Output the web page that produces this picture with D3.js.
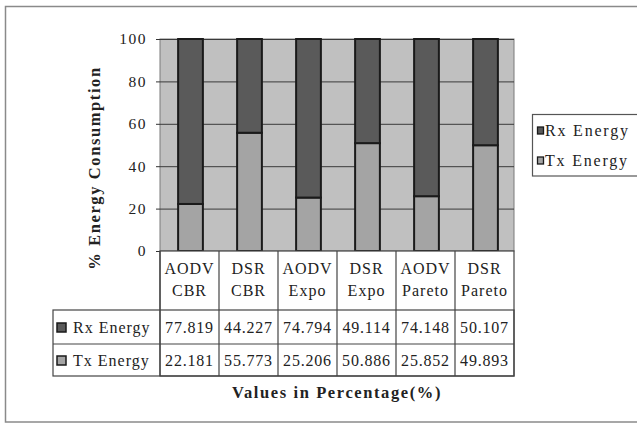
<!DOCTYPE html>
<html>
<head>
<meta charset="utf-8">
<script src="https://cdn.jsdelivr.net/npm/d3@7"></script>
<style>
  html, body { margin: 0; padding: 0; background: #fff; }
  svg { display: block; }
  text { font-family: "Liberation Serif", "Times New Roman", serif; fill: #222; }
</style>
</head>
<body>
<svg id="chart" width="637" height="424"></svg>
<script>
// Energy split per routing protocol / traffic model
const categories = [["AODV", "CBR"], ["DSR", "CBR"], ["AODV", "Expo"], ["DSR", "Expo"], ["AODV", "Pareto"], ["DSR", "Pareto"]];
const seriesNames = ["Rx Energy", "Tx Energy"];
const rxEnergy = [77.819, 44.227, 74.794, 49.114, 74.148, 50.107];
const txEnergy = [22.181, 55.773, 25.206, 50.886, 25.852, 49.893];
const yTicks = [0, 20, 40, 60, 80, 100];

(function () {
const colors = { "Rx Energy": "#5a5a5a", "Tx Energy": "#a4a4a4" };

const svg = d3.select("#chart");

// outer frame
svg.append("rect")
  .attr("x", 5.5).attr("y", 6.5).attr("width", 640).attr("height", 415.5)
  .attr("fill", "#fff").attr("stroke", "#8a8a8a").attr("stroke-width", 1.5);

const plotL = 160, plotR = 514, plotT = 39, plotB = 251;

const keys = categories.map(c => c.join(" "));
const x = d3.scaleBand().domain(keys).range([plotL, plotR]).padding(0);
const y = d3.scaleLinear().domain([0, 100]).range([plotB, plotT]);

// plot background
svg.append("rect")
  .attr("x", plotL).attr("y", plotT).attr("width", plotR - plotL).attr("height", plotB - plotT)
  .attr("fill", "#c0c0c0").attr("stroke", "#7a7a7a").attr("stroke-width", 1);

// horizontal gridlines
svg.append("g").selectAll("line").data(yTicks.filter(t => t > 0))
  .join("line")
  .attr("x1", plotL).attr("x2", plotR)
  .attr("y1", d => y(d) + 0.5).attr("y2", d => y(d) + 0.5)
  .attr("stroke", "#3a3a3a").attr("stroke-width", 1);

// y axis
const yAxis = d3.axisLeft(y).tickValues(yTicks).tickSize(4).tickPadding(9).tickFormat(d3.format("d"));
const ya = svg.append("g").attr("transform", `translate(${plotL},0)`).call(yAxis);
ya.select(".domain").remove();
ya.selectAll(".tick line").attr("stroke", "#333");
ya.selectAll(".tick text")
  .attr("font-family", "Liberation Serif, serif")
  .attr("font-size", 15.5).attr("letter-spacing", 1.5).attr("fill", "#222");

// stacked bars
const rows = keys.map((k, i) => ({ key: k, "Tx Energy": txEnergy[i], "Rx Energy": rxEnergy[i] }));
const stack = d3.stack().keys(["Tx Energy", "Rx Energy"])(rows);
const barW = x.bandwidth() * 0.42;
svg.append("g").selectAll("g").data(stack).join("g")
  .attr("fill", d => colors[d.key])
  .selectAll("rect").data(d => d).join("rect")
  .attr("x", d => x(d.data.key) + (x.bandwidth() - barW) / 2 + 1)
  .attr("y", d => y(d[1]))
  .attr("width", barW)
  .attr("height", d => y(d[0]) - y(d[1]))
  .attr("stroke", "#1a1a1a").attr("stroke-width", 2);

// y axis title
svg.append("text")
  .attr("transform", "translate(100,168) rotate(-90)")
  .attr("text-anchor", "middle")
  .attr("font-size", 16.5).attr("font-weight", "bold").attr("letter-spacing", 1.6)
  .text("% Energy Consumption");

// data table
const tLeft = 53, hBottom = 310, rowMid = 344, tBottom = 376;
const tg = svg.append("g").attr("stroke", "#444").attr("stroke-width", 1.2);
tg.append("rect").attr("x", plotL).attr("y", plotB).attr("width", plotR - plotL).attr("height", tBottom - plotB)
  .attr("fill", "#fff");
tg.append("rect").attr("x", tLeft).attr("y", hBottom).attr("width", plotR - tLeft).attr("height", tBottom - hBottom)
  .attr("fill", "none");
tg.append("line").attr("x1", tLeft).attr("x2", plotR).attr("y1", rowMid).attr("y2", rowMid);
tg.selectAll("line.col").data(keys).join("line").attr("class", "col")
  .attr("x1", d => x(d)).attr("x2", d => x(d)).attr("y1", plotB).attr("y2", tBottom);

// header labels
const hg = svg.append("g").selectAll("g").data(categories).join("g");
hg.append("text")
  .attr("x", (d, i) => x(keys[i]) + x.bandwidth() / 2).attr("y", 274)
  .attr("text-anchor", "middle").attr("font-size", 16).attr("letter-spacing", 1)
  .text(d => d[0]);
hg.append("text")
  .attr("x", (d, i) => x(keys[i]) + x.bandwidth() / 2).attr("y", 296)
  .attr("text-anchor", "middle").attr("font-size", 16).attr("letter-spacing", 1)
  .text(d => d[1]);

// value rows
const rowData = [
  { name: "Rx Energy", values: rxEnergy, y: 333 },
  { name: "Tx Energy", values: txEnergy, y: 366 }
];
rowData.forEach(r => {
  svg.append("rect").attr("x", 57).attr("y", r.y - 10).attr("width", 9).attr("height", 9)
    .attr("fill", colors[r.name]).attr("stroke", "#1a1a1a").attr("stroke-width", 1.5);
  svg.append("text").attr("x", 73).attr("y", r.y)
    .attr("font-size", 16).attr("letter-spacing", 1).text(r.name);
  svg.append("g").selectAll("text").data(r.values).join("text")
    .attr("x", (d, i) => x(keys[i]) + x.bandwidth() / 2).attr("y", r.y)
    .attr("text-anchor", "middle").attr("font-size", 16).attr("letter-spacing", 0.8)
    .text(d => d3.format(".3f")(d));
});

// x axis title
svg.append("text")
  .attr("x", 337).attr("y", 398).attr("text-anchor", "middle")
  .attr("font-size", 16.5).attr("font-weight", "bold").attr("letter-spacing", 1.6)
  .text("Values in Percentage(%)");

// legend
const lg = svg.append("g");
lg.append("rect").attr("x", 532.5).attr("y", 114.5).attr("width", 110).attr("height", 61.5)
  .attr("fill", "#fff").attr("stroke", "#555").attr("stroke-width", 1.2);
seriesNames.forEach((s, i) => {
  const cy = 131 + i * 30;
  lg.append("rect").attr("x", 537.5).attr("y", cy - 4).attr("width", 6).attr("height", 7)
    .attr("fill", colors[s]).attr("stroke", "#1a1a1a").attr("stroke-width", 1.3);
  lg.append("text").attr("x", 545).attr("y", cy + 5)
    .attr("font-size", 16).attr("letter-spacing", 1.8).text(s);
});
})();
</script>
</body>
</html>
